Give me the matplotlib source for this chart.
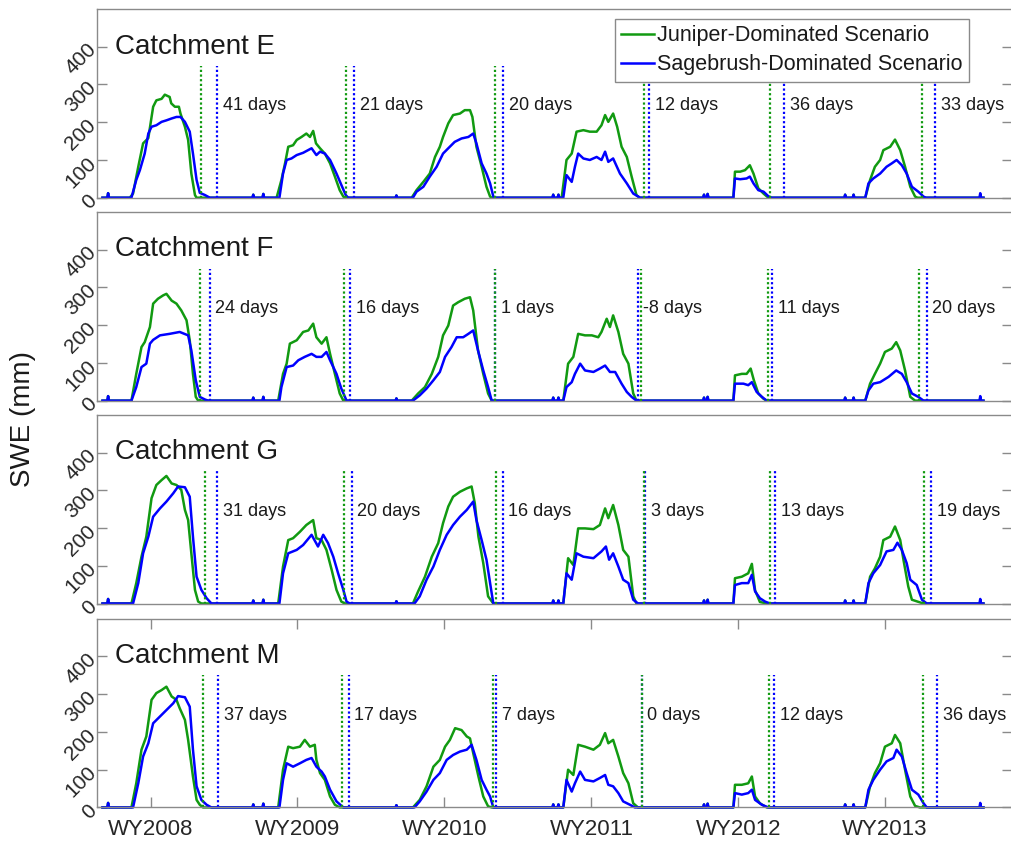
import matplotlib.pyplot as plt

plt.rcParams['font.family'] = ['Liberation Sans', 'DejaVu Sans']

# x axis: days counted from 1 Oct 2007 (start of WY2008)
year_labels = ["WY2008", "WY2009", "WY2010", "WY2011", "WY2012", "WY2013"]
year_ticks = [120, 485, 850, 1216, 1581, 1946]
catchments = ["E", "F", "G", "M"]

# small early-season snow blips shared by both scenarios (day, SWE mm)
blips = [(14, 12), (375, 8), (400, 10), (731, 6), (1121, 8), (1134, 8),
         (1496, 8), (1505, 10), (1847, 8), (1868, 8)]
end_blip = [(2183, 12)]

# ---- Catchment E ----
juniper_E = [
    (68, 0), (76, 11), (89, 82), (101, 144), (114, 158), (126, 241), (134, 258), (147, 262), (155, 273),
    (167, 267), (171, 250), (180, 241), (190, 241), (194, 223), (205, 188), (213, 153), (221, 64), (230, 7), (234, 0),
    (433, 0), (445, 47), (454, 91), (462, 135), (474, 139), (483, 153), (495, 161), (507, 170), (516, 161), (524, 177),
    (531, 144), (541, 131), (553, 117), (566, 91), (578, 56), (590, 20), (599, 3), (603, 0),
    (769, 0), (781, 20), (798, 42), (814, 64), (827, 108), (839, 135), (847, 161), (860, 197), (872, 219), (889, 223),
    (901, 232), (914, 232), (920, 214), (930, 135), (943, 82), (955, 29), (964, 3), (968, 0),
    (1142, 0), (1154, 100), (1167, 117), (1179, 175), (1196, 179), (1212, 175), (1229, 175), (1241, 192), (1250, 219),
    (1258, 201), (1270, 223), (1280, 188), (1291, 135), (1304, 108), (1316, 56), (1328, 7), (1336, 0),
    (1569, 0), (1573, 69), (1586, 69), (1598, 73), (1610, 86), (1619, 64), (1631, 25), (1644, 11), (1656, 0),
    (1897, 0), (1909, 47), (1921, 82), (1934, 100), (1942, 126), (1959, 135), (1971, 154), (1984, 126), (1996, 82),
    (2009, 29), (2021, 3), (2027, 0),
]
sage_E = [
    (72, 0), (84, 47), (93, 73), (105, 117), (114, 170), (122, 188), (134, 192), (147, 201), (159, 205), (172, 210),
    (184, 214), (194, 214), (205, 201), (217, 175), (225, 117), (234, 47), (242, 13), (255, 7), (267, 0),
    (440, 0), (449, 64), (458, 100), (470, 104), (483, 113), (499, 119), (520, 131), (532, 113), (541, 122), (553, 117),
    (566, 100), (582, 64), (594, 34), (605, 7), (611, 0),
    (772, 0), (781, 16), (798, 29), (814, 56), (831, 82), (847, 117), (860, 131), (876, 148), (893, 157), (910, 161),
    (922, 170), (930, 144), (943, 91), (955, 64), (964, 38), (972, 3), (976, 0),
    (1146, 0), (1154, 60), (1167, 42), (1175, 82), (1183, 117), (1196, 104), (1212, 100), (1229, 108), (1241, 100),
    (1250, 122), (1258, 95), (1270, 104), (1287, 64), (1304, 38), (1320, 11), (1337, 0),
    (1569, 0), (1573, 51), (1586, 49), (1602, 51), (1610, 56), (1619, 38), (1631, 20), (1644, 16), (1656, 4), (1664, 0),
    (1897, 0), (1905, 38), (1917, 51), (1934, 64), (1950, 82), (1963, 91), (1975, 100), (1988, 86), (2000, 64),
    (2013, 29), (2029, 16), (2042, 3), (2048, 0),
]
meltout_juniper_E = [245, 605, 977, 1347, 1659, 2038]
lag_days_E = [41, 21, 20, 12, 36, 33]

# ---- Catchment F ----
juniper_F = [
    (72, 0), (84, 71), (97, 142), (105, 155), (118, 195), (126, 257), (138, 270), (151, 279), (159, 283), (172, 265),
    (184, 257), (196, 239), (209, 213), (217, 160), (225, 71), (232, 10), (238, 0),
    (437, 0), (449, 71), (458, 98), (466, 151), (483, 160), (499, 182), (512, 186), (524, 204), (532, 168), (545, 151),
    (557, 168), (566, 124), (578, 71), (590, 19), (599, 0),
    (769, 0), (785, 19), (802, 36), (819, 71), (835, 116), (847, 173), (860, 199), (872, 252), (885, 261), (901, 270),
    (914, 274), (922, 239), (934, 133), (947, 71), (959, 19), (968, 0),
    (1146, 0), (1158, 98), (1171, 116), (1183, 177), (1200, 173), (1217, 173), (1233, 168), (1241, 182), (1254, 217),
    (1262, 195), (1270, 226), (1283, 182), (1295, 124), (1308, 98), (1320, 19), (1328, 0),
    (1569, 0), (1573, 67), (1590, 71), (1602, 71), (1612, 85), (1620, 54), (1631, 19), (1644, 5), (1652, 0),
    (1897, 0), (1909, 45), (1921, 71), (1934, 98), (1946, 129), (1963, 138), (1974, 155), (1984, 133), (1996, 80),
    (2009, 10), (2021, 0),
]
sage_F = [
    (72, 0), (84, 36), (97, 89), (109, 98), (118, 151), (126, 161), (143, 173), (167, 177), (192, 182), (213, 173),
    (221, 133), (232, 54), (242, 10), (255, 3), (263, 0),
    (440, 0), (445, 36), (458, 89), (474, 93), (487, 107), (503, 116), (520, 124), (532, 116), (545, 116), (557, 129),
    (566, 107), (582, 71), (594, 32), (607, 0),
    (772, 0), (789, 14), (806, 32), (823, 54), (839, 76), (852, 116), (868, 142), (881, 168), (897, 168), (910, 177),
    (922, 186), (934, 133), (947, 80), (959, 36), (968, 0),
    (1146, 0), (1154, 36), (1167, 49), (1175, 71), (1188, 98), (1200, 80), (1221, 76), (1237, 85), (1250, 93),
    (1262, 76), (1275, 76), (1291, 45), (1304, 23), (1316, 10), (1328, 0),
    (1569, 0), (1573, 45), (1594, 45), (1606, 41), (1615, 49), (1627, 23), (1640, 10), (1652, 0),
    (1897, 0), (1905, 27), (1917, 45), (1934, 49), (1955, 63), (1974, 80), (1988, 71), (2000, 49), (2013, 19),
    (2029, 10), (2042, 0),
]
meltout_juniper_F = [243, 600, 976, 1339, 1654, 2030]
lag_days_F = [24, 16, 1, -8, 11, 20]

# ---- Catchment G ----
juniper_G = [
    (72, 0), (84, 54), (97, 124), (109, 177), (122, 279), (134, 314), (147, 327), (159, 338), (172, 318), (184, 314),
    (196, 301), (205, 248), (213, 221), (221, 133), (230, 36), (238, 5), (246, 0),
    (437, 0), (449, 98), (462, 168), (474, 173), (491, 190), (507, 208), (524, 221), (532, 173), (545, 168),
    (557, 142), (570, 89), (582, 36), (594, 5), (603, 0),
    (772, 0), (785, 32), (802, 71), (819, 124), (835, 160), (847, 213), (860, 257), (872, 283), (889, 296),
    (906, 305), (918, 310), (926, 265), (935, 177), (947, 107), (959, 19), (972, 0),
    (1146, 0), (1158, 120), (1171, 102), (1183, 199), (1200, 199), (1221, 197), (1237, 208), (1250, 252),
    (1258, 226), (1270, 261), (1283, 208), (1295, 142), (1308, 124), (1320, 19), (1328, 0),
    (1569, 0), (1573, 67), (1590, 71), (1606, 80), (1615, 105), (1623, 35), (1635, 4), (1652, 0),
    (1897, 0), (1909, 71), (1921, 93), (1934, 124), (1942, 168), (1959, 177), (1971, 204), (1984, 168),
    (1992, 116), (2004, 45), (2013, 10), (2033, 3), (2042, 0),
]
sage_G = [
    (76, 0), (89, 54), (101, 133), (114, 177), (126, 230), (143, 252), (159, 270), (176, 292), (188, 310),
    (205, 308), (217, 283), (225, 177), (234, 71), (246, 36), (259, 14), (271, 0),
    (440, 0), (449, 80), (462, 133), (483, 142), (499, 155), (520, 182), (536, 151), (549, 182), (561, 160),
    (574, 124), (586, 80), (599, 36), (607, 5), (615, 0),
    (776, 0), (789, 19), (806, 63), (823, 98), (839, 142), (856, 182), (872, 208), (889, 230), (906, 248),
    (922, 270), (930, 221), (943, 168), (955, 116), (964, 54), (972, 0),
    (1146, 0), (1154, 80), (1167, 63), (1179, 133), (1196, 124), (1221, 120), (1241, 138), (1252, 151),
    (1260, 116), (1270, 133), (1283, 98), (1295, 63), (1308, 54), (1320, 10), (1332, 0),
    (1569, 0), (1573, 49), (1590, 54), (1606, 54), (1615, 76), (1623, 32), (1635, 14), (1648, 5), (1660, 0),
    (1897, 0), (1905, 54), (1917, 80), (1934, 102), (1950, 138), (1967, 142), (1977, 161), (1988, 142),
    (2000, 107), (2009, 63), (2025, 49), (2038, 10), (2050, 0),
]
meltout_juniper_G = [254, 600, 979, 1347, 1660, 2042]
lag_days_G = [31, 20, 16, 3, 13, 19]

# ---- Catchment M ----
juniper_M = [
    (72, 0), (84, 64), (97, 153), (109, 188), (122, 285), (134, 303), (147, 311), (159, 320), (172, 294),
    (184, 285), (192, 263), (205, 232), (213, 179), (225, 82), (234, 20), (242, 7), (250, 0),
    (437, 0), (449, 100), (462, 161), (474, 157), (491, 161), (503, 179), (516, 161), (528, 166), (532, 126),
    (541, 91), (553, 73), (566, 29), (578, 7), (590, 0),
    (772, 0), (789, 20), (806, 56), (823, 108), (839, 126), (852, 161), (864, 179), (877, 210), (893, 205),
    (906, 188), (914, 183), (922, 144), (935, 82), (947, 29), (959, 3), (968, 0),
    (1146, 0), (1158, 100), (1171, 86), (1183, 166), (1200, 161), (1221, 153), (1237, 166), (1250, 197),
    (1258, 170), (1270, 179), (1283, 135), (1295, 91), (1308, 64), (1320, 11), (1332, 0),
    (1569, 0), (1573, 60), (1590, 60), (1606, 64), (1615, 82), (1623, 29), (1635, 11), (1652, 0),
    (1897, 0), (1909, 56), (1921, 91), (1934, 117), (1946, 161), (1963, 170), (1971, 192), (1984, 170),
    (1996, 100), (2009, 29), (2021, 4), (2033, 0),
]
sage_M = [
    (76, 0), (89, 64), (101, 135), (114, 170), (126, 223), (143, 241), (159, 258), (176, 276), (188, 295),
    (205, 292), (217, 267), (225, 153), (234, 56), (246, 20), (259, 7), (271, 0),
    (440, 0), (449, 73), (458, 117), (474, 108), (491, 117), (507, 126), (520, 131), (532, 108), (545, 95),
    (553, 82), (566, 47), (582, 16), (599, 0),
    (776, 0), (789, 16), (806, 42), (823, 73), (839, 91), (856, 126), (872, 139), (889, 148), (906, 153),
    (918, 166), (930, 126), (943, 73), (955, 47), (964, 29), (972, 0),
    (1146, 0), (1154, 73), (1167, 42), (1175, 64), (1188, 95), (1200, 73), (1221, 69), (1237, 78), (1250, 86),
    (1258, 60), (1270, 56), (1283, 38), (1295, 16), (1312, 7), (1324, 0),
    (1569, 0), (1573, 38), (1590, 34), (1606, 38), (1615, 47), (1623, 20), (1640, 7), (1656, 0),
    (1897, 0), (1905, 47), (1917, 73), (1934, 100), (1950, 122), (1967, 131), (1975, 153), (1988, 135),
    (2000, 91), (2013, 47), (2029, 34), (2042, 11), (2050, 0),
]
meltout_juniper_M = [250, 595, 972, 1341, 1658, 2040]
lag_days_M = [37, 17, 7, 0, 12, 36]

juniper = {"E": juniper_E, "F": juniper_F, "G": juniper_G, "M": juniper_M}
sage = {"E": sage_E, "F": sage_F, "G": sage_G, "M": sage_M}
meltout = {"E": meltout_juniper_E, "F": meltout_juniper_F, "G": meltout_juniper_G, "M": meltout_juniper_M}
lags = {"E": lag_days_E, "F": lag_days_F, "G": lag_days_G, "M": lag_days_M}

GREEN = "#119a11"
BLUE = "#0000ff"
GRAY = "#8a8a8a"


def full_series(season_pts, extra):
    """Add blips and the zero baseline to the seasonal points, sorted by day."""
    pts = [(0, 0), (2191, 0)] + list(season_pts)
    for d, v in extra:
        pts += [(d - 2, 0), (d, v), (d + 2, 0)]
    pts.sort()
    return [p[0] for p in pts], [p[1] for p in pts]


fig = plt.figure(figsize=(10.11, 8.41), dpi=100)
bottoms = [0.7649, 0.5236, 0.2824, 0.0399]

for i, c in enumerate(catchments):
    ax = fig.add_axes([0.0962, bottoms[i], 0.9048, 0.2244])

    xg, yg = full_series(juniper[c], blips)
    xb, yb = full_series(sage[c], blips + end_blip)
    ax.plot(xg, yg, color=GREEN, lw=1.8, label="Juniper-Dominated Scenario", clip_on=False)
    ax.plot(xb, yb, color=BLUE, lw=1.8, label="Sagebrush-Dominated Scenario", clip_on=False)

    for g_day, lag in zip(meltout[c], lags[c]):
        b_day = g_day + lag
        ax.vlines(b_day, 0, 350, color=BLUE, lw=1.6, linestyles=(0, (1, 1.1)))
        ax.vlines(g_day, 0, 350, color=GREEN, lw=1.6, linestyles=(0, (1, 1.1)))
        ax.text(b_day + 14, 232, f"{lag} days", fontsize=13, color="#1a1a1a",
                ha="left", va="baseline")

    ax.text(30, 382, f"Catchment {c}", fontsize=20, color="#1a1a1a", ha="left", va="baseline")

    ax.set_xlim(-13, 2262)
    ax.set_ylim(0, 500)
    ax.set_yticks([0, 100, 200, 300, 400])
    ax.tick_params(axis="y", direction="in", length=7, width=1, color=GRAY,
                   labelcolor="#262626", labelsize=15, left=True, right=True, pad=3)
    plt.setp(ax.get_yticklabels(), rotation=45, ha="right", va="center", rotation_mode="anchor")

    if c == "M":
        ax.set_xticks(year_ticks)
        ax.set_xticklabels(year_labels)
        ax.tick_params(axis="x", direction="in", length=7, width=1, color=GRAY,
                       labelcolor="#262626", labelsize=16, top=True, bottom=True, pad=8)
    else:
        ax.set_xticks([])

    for s in ax.spines.values():
        s.set_color(GRAY)
        s.set_linewidth(1.0)

    if c == "E":
        leg = ax.legend(loc="upper right", bbox_to_anchor=(0.953, 0.947), borderaxespad=0,
                        fontsize=15.5, handlelength=1.55, handletextpad=0.12, labelspacing=0.36,
                        borderpad=0.3, fancybox=False, framealpha=1, edgecolor=GRAY)
        leg.get_frame().set_linewidth(1.0)
        for t in leg.get_texts():
            t.set_color("#1a1a1a")

fig.text(0.023, 0.502, "SWE (mm)", rotation=90, fontsize=20, color="#1a1a1a",
         ha="center", va="center")

fig.savefig("out.png", dpi=100)
